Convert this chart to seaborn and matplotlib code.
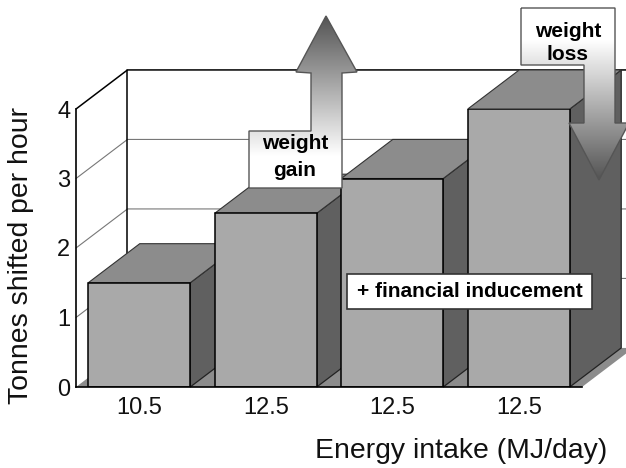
import matplotlib
matplotlib.use("Agg")
import matplotlib.pyplot as plt
import numpy as np
import seaborn as sns
from matplotlib.patches import Polygon

# === Data ===
bar_ids = [0, 1, 2, 3]
tonnes = [1.5, 2.5, 3.0, 4.0]
intake_labels = ["10.5", "12.5", "12.5", "12.5"]
y_ticks = [0, 1, 2, 3, 4]

FRONT = "#a9a9a9"
SIDE = "#606060"
TOP = "#8c8c8c"
W, H = 626, 468

# depth of the fake 3d box, in data units
DX, DY = 0.407, 0.562

sns.set_theme(style="white")
plt.rcParams["font.family"] = ["Liberation Sans", "DejaVu Sans"]

fig = plt.figure(figsize=(W / 100, H / 100), dpi=100, facecolor="white")
ax = fig.add_axes([76 / W, 1 - 387 / H, 506 / W, 278 / H])
ax.patch.set_alpha(0)

sns.barplot(x=bar_ids, y=tonnes, width=0.806, color=FRONT, saturation=1,
            edgecolor="black", linewidth=1.1, ax=ax)
bars = list(ax.containers[0])
ax.set_xlim(-0.5, 3.5)
ax.set_ylim(0, 4)
x0, x1 = ax.get_xlim()
top = max(y_ticks)

# back wall and floor
ax.fill([x0 + DX, x1 + DX + 1, x1 + DX + 1, x0 + DX], [DY, DY, top + DY, top + DY],
        fc="white", ec="none", clip_on=False, zorder=0.5)
ax.fill([x0, x1, x1 + DX, x0 + DX], [0, 0, DY, DY],
        fc=TOP, ec="none", clip_on=False, zorder=1)

# gridlines, side wall then back wall
for v in y_ticks[1:-1]:
    ax.plot([x0, x0 + DX, x1 + DX + 1], [v, v + DY, v + DY], color="#777777", lw=0.8,
            clip_on=False, zorder=1.5)
ax.plot([x0, x0 + DX, x1 + DX + 1], [top, top + DY, top + DY], color="black", lw=1.1,
        clip_on=False, zorder=1.5)
ax.plot([x0 + DX, x0 + DX], [DY, top + DY], color="black", lw=1.1, clip_on=False, zorder=1.5)

# side and top of each bar
for i, bar in enumerate(bars):
    left, right = bar.get_x(), bar.get_x() + bar.get_width()
    h = bar.get_height()
    ax.fill([right, right + DX, right + DX, right], [0, DY, h + DY, h],
            fc=SIDE, ec="#222222", lw=0.9, clip_on=False, zorder=3 + i)
    ax.fill([left, right, right + DX, left + DX], [h, h, h + DY, h + DY],
            fc=TOP, ec="#333333", lw=0.8, clip_on=False, zorder=3 + i)
    bar.set_zorder(3.5 + i)

ax.set_yticks(y_ticks)
ax.set_xticks(bar_ids)
ax.set_xticklabels(intake_labels)
ax.tick_params(axis="both", length=0, labelsize=17, labelcolor="#111111")
ax.tick_params(axis="x", pad=7)
ax.tick_params(axis="y", pad=4)

sns.despine(ax=ax, top=True, right=True)
for name in ["left", "bottom"]:
    ax.spines[name].set_visible(True)
    ax.spines[name].set_color("black")
    ax.spines[name].set_linewidth(1.2)
    ax.spines[name].set_zorder(9)

ax.set_xlabel("Energy intake (MJ/day)", fontsize=20.4, color="#111111", va="center")
ax.xaxis.set_label_coords((461 - 76) / 506, (387 - 451) / 278)
ax.set_ylabel("Tonnes shifted per hour", fontsize=20.4, color="#111111", va="center")
ax.yaxis.set_label_coords((21 - 76) / 506, (387 - 256) / 278)

# overlay in pixel coordinates for the call-out shapes
over = fig.add_axes([0, 0, 1, 1], zorder=10)
over.set_xlim(0, W)
over.set_ylim(H, 0)
over.axis("off")
over.patch.set_alpha(0)


def gradient_shape(points, dark_at_top):
    poly = Polygon(points, closed=True, fc="none", ec="#555555", lw=1.0, zorder=3)
    over.add_patch(poly)
    xs, ys = zip(*points)
    ramp = np.clip(np.linspace(0.33, 1.15, 128), 0, 1).reshape(-1, 1)
    if not dark_at_top:
        ramp = ramp[::-1]
    img = over.imshow(ramp, cmap="gray", vmin=0, vmax=1, aspect="auto", zorder=2,
                      extent=[min(xs), max(xs), max(ys), min(ys)])
    img.set_clip_path(poly)


gradient_shape([(326, 16), (357, 72), (342, 73), (342, 188), (249, 188),
                (249, 131), (311, 131), (311, 73), (296, 72)], True)
gradient_shape([(521, 8), (615, 8), (615, 123), (629, 123), (599, 180),
                (569, 123), (584, 123), (584, 65), (521, 65)], False)
over.set_xlim(0, W)
over.set_ylim(H, 0)

over.text(295, 157, "weight\ngain", fontsize=15, fontweight="bold", color="black",
          ha="center", va="center", linespacing=1.55, zorder=4)
over.text(568, 43, "weight\nloss", fontsize=15, fontweight="bold", color="black",
          ha="center", va="center", linespacing=1.25, zorder=4)
over.fill([347, 592, 592, 347], [274, 274, 309, 309], fc="white", ec="#333333", lw=1.2, zorder=3)
over.text(470, 291.5, "+ financial inducement", fontsize=15, fontweight="bold", color="black",
          ha="center", va="center", zorder=4)

fig.savefig("out.png", dpi=100)
